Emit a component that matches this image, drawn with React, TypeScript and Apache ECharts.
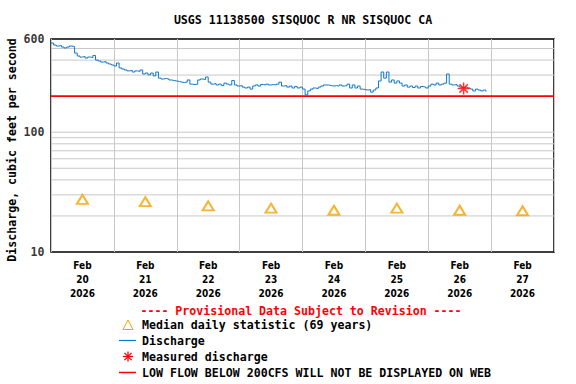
import React, { useEffect, useRef } from 'react';
import * as echarts from 'echarts';

const TITLE = 'USGS 11138500 SISQUOC R NR SISQUOC CA';
const Y_NAME = 'Discharge, cubic feet per second';
const PROVISIONAL = '---- Provisional Data Subject to Revision ----';

const dayLabels = [
  'Feb\n20\n2026', 'Feb\n21\n2026', 'Feb\n22\n2026', 'Feb\n23\n2026',
  'Feb\n24\n2026', 'Feb\n25\n2026', 'Feb\n26\n2026', 'Feb\n27\n2026',
];

// Median daily statistic (69 years), one per day
const medianValues = [27.5, 26.3, 24.3, 23.2, 22.3, 23.2, 22.3, 22.1];

// Discharge, hourly readings starting Feb 20 00:00 (hours since start)
const dischargeStartHour = 0;
const dischargeValues = [
  // Feb 20
  555, 534, 524, 529, 514, 505, 514, 524, 519, 458, 433, 424, 429, 416, 424, 420, 437, 400, 393, 385, 389, 378, 371, 364,
  // Feb 21
  357, 378, 344, 337, 331, 325, 328, 318, 325, 322, 331, 306, 312, 301, 312, 295, 318, 283, 278, 281, 278, 273, 270, 268,
  // Feb 22
  265, 262, 260, 262, 273, 252, 250, 252, 273, 278, 275, 289, 262, 252, 255, 248, 252, 245, 257, 252, 248, 270, 248, 243,
  // Feb 23
  245, 238, 234, 238, 229, 243, 248, 243, 250, 248, 252, 248, 250, 248, 252, 262, 243, 245, 238, 243, 234, 241, 234, 238,
  // Feb 24
  229, 205, 221, 229, 234, 231, 238, 243, 248, 248, 245, 243, 245, 243, 248, 243, 245, 252, 234, 248, 234, 243, 229, 227,
  // Feb 25
  225, 227, 216, 225, 234, 268, 318, 283, 318, 262, 273, 257, 268, 257, 243, 248, 238, 243, 236, 243, 234, 241, 238, 234,
  // Feb 26
  243, 252, 248, 257, 248, 252, 257, 306, 252, 248, 250, 243, 238, 234, 238, 234, 229, 221, 229, 225, 221, 225, 218,
];

// Measured discharge (hours since Feb 20 00:00, cfs)
const measuredHours = [157.5];
const measuredValues = [232];

const lowFlowThreshold = 200;
const gridValues = [20, 30, 40, 50, 60, 70, 80, 90, 100, 300, 400, 500];
const yLabelValues = [600, 100, 10];

const legendLabels = [
  'Median daily statistic (69 years)',
  'Discharge',
  'Measured discharge',
  'LOW FLOW BELOW 200CFS WILL NOT BE DISPLAYED ON WEB',
];

const FONT = "'DejaVu Sans Mono', monospace";
const NARROW = "'Liberation Sans Narrow', 'DejaVu Sans Condensed', 'DejaVu Sans Mono', sans-serif";
const BLUE = '#1078cc';
const ORANGE = '#f5a300';
const RED = '#ff0000';
const GRID = '#c8c8c8';
const STAR = 'path://M5,0L5,10M0,5L10,5M1.5,1.5L8.5,8.5M1.5,8.5L8.5,1.5';

export default function App() {
  const ref = useRef<HTMLDivElement>(null);

  useEffect(() => {
    if (!ref.current) return;
    const chart = echarts.init(ref.current, undefined, { renderer: 'svg' });

    const gridSeries = gridValues.map((v) => ({
      type: 'line',
      data: [[0, v], [192, v]],
      xAxisIndex: 0,
      yAxisIndex: 0,
      symbol: 'none',
      silent: true,
      z: 1,
      lineStyle: { color: GRID, width: 1 },
    }));

    const textStyle = { fontFamily: FONT, fontWeight: 'bold', fontSize: 11.6, fill: '#000' };

    const legendY = [325, 341, 357, 373];

    chart.setOption({
      animation: false,
      backgroundColor: '#fff',
      grid: {
        left: 51, top: 39, right: 22, bottom: 132,
        show: true, borderColor: '#000', borderWidth: 1.5, backgroundColor: 'transparent',
      },
      xAxis: [
        {
          type: 'value', min: 0, max: 192, interval: 24, position: 'bottom',
          axisLabel: { show: false }, axisTick: { show: false }, axisLine: { show: false },
          splitLine: { show: true, lineStyle: { color: GRID, width: 1 } },
        },
        {
          type: 'category', data: dayLabels, position: 'bottom', boundaryGap: true,
          axisLine: { show: false }, axisTick: { show: false }, splitLine: { show: false },
          axisLabel: {
            interval: 0, margin: 7, color: '#000', fontFamily: NARROW, fontWeight: 'bold',
            fontSize: 10, lineHeight: 13.6,
          },
        },
      ],
      yAxis: {
        type: 'log', logBase: 10, min: 10, max: 600,
        axisLabel: { show: false }, axisTick: { show: false }, axisLine: { show: false },
        splitLine: { show: false }, minorSplitLine: { show: false },
      },
      series: [
        ...gridSeries,
        {
          type: 'line',
          name: 'low flow',
          data: [[0, lowFlowThreshold], [192, lowFlowThreshold]],
          symbol: 'none', silent: true, z: 2,
          lineStyle: { color: RED, width: 1.6 },
        },
        {
          type: 'line',
          name: 'Discharge',
          data: dischargeValues.map((v, i) => [dischargeStartHour + i, v]),
          symbol: 'none', z: 3,
          step: 'end',
          lineStyle: { color: BLUE, width: 1 },
        },
        {
          type: 'scatter',
          name: 'Median',
          xAxisIndex: 1,
          data: medianValues,
          symbol: 'emptyTriangle',
          symbolSize: [11, 9],
          z: 3,
          itemStyle: { color: ORANGE, borderColor: ORANGE, borderWidth: 1 },
        },
        {
          type: 'scatter',
          name: 'Measured discharge',
          data: measuredHours.map((h, i) => [h, measuredValues[i]]),
          symbol: STAR,
          symbolSize: 12,
          z: 4,
          itemStyle: { color: RED, borderColor: RED, borderWidth: 1.5 },
        },
        {
          type: 'scatter',
          name: 'ylabels',
          data: yLabelValues.map((v) => [0, v]),
          symbolSize: 1,
          clip: false,
          silent: true,
          itemStyle: { color: 'transparent' },
          label: {
            show: true, position: 'left', distance: 6,
            formatter: (p: any) => String(p.value[1]),
            fontFamily: FONT, fontWeight: 'bold', fontSize: 11.6, color: '#000',
          },
        },
      ],
      graphic: [
        {
          type: 'text', x: 303, y: 20,
          style: { ...textStyle, text: TITLE, textAlign: 'center', textVerticalAlign: 'middle' },
        },
        {
          type: 'text', x: 12, y: 150, rotation: Math.PI / 2,
          style: { ...textStyle, text: Y_NAME, textAlign: 'center', textVerticalAlign: 'middle' },
        },
        {
          type: 'text', x: 301, y: 311,
          style: { ...textStyle, fill: RED, text: PROVISIONAL, textAlign: 'center', textVerticalAlign: 'middle' },
        },
        {
          type: 'polygon',
          shape: { points: [[128, 320], [123, 329.5], [133, 329.5]] },
          style: { fill: 'none', stroke: ORANGE, lineWidth: 1 },
        },
        {
          type: 'line',
          shape: { x1: 119, y1: 340.5, x2: 136, y2: 340.5 },
          style: { stroke: BLUE, lineWidth: 1.2 },
        },
        {
          type: 'group', x: 128, y: 356.5,
          children: [
            { type: 'line', shape: { x1: 0, y1: -5, x2: 0, y2: 5 }, style: { stroke: RED, lineWidth: 1.3 } },
            { type: 'line', shape: { x1: -5, y1: 0, x2: 5, y2: 0 }, style: { stroke: RED, lineWidth: 1.3 } },
            { type: 'line', shape: { x1: -3.6, y1: -3.6, x2: 3.6, y2: 3.6 }, style: { stroke: RED, lineWidth: 1.3 } },
            { type: 'line', shape: { x1: -3.6, y1: 3.6, x2: 3.6, y2: -3.6 }, style: { stroke: RED, lineWidth: 1.3 } },
          ],
        },
        {
          type: 'line',
          shape: { x1: 119, y1: 372.5, x2: 136, y2: 372.5 },
          style: { stroke: RED, lineWidth: 1.5 },
        },
        ...legendLabels.map((t, i) => ({
          type: 'text', x: 142, y: legendY[i],
          style: { ...textStyle, text: t, textAlign: 'left', textVerticalAlign: 'middle' },
        })),
      ],
    });

    return () => chart.dispose();
  }, []);

  return (
    <div
      ref={ref}
      style={{ position: 'absolute', left: 0, top: 0, width: 576, height: 384, background: '#fff' }}
    />
  );
}
